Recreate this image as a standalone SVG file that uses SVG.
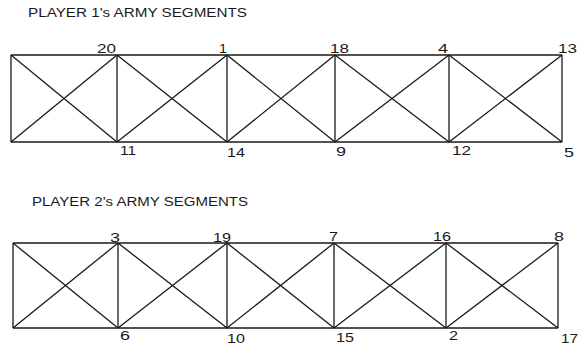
<svg xmlns="http://www.w3.org/2000/svg" width="579" height="347" viewBox="0 0 579 347">
<style>
.ln{stroke:#1a1a1a;stroke-width:1.3;fill:none}
.t{font-family:"Liberation Sans",Arial,sans-serif;font-size:12.5px;fill:#1a1a1a}
.n{font-family:"Liberation Sans",Arial,sans-serif;font-size:13.5px;fill:#1a1a1a}
</style>
<rect width="579" height="347" fill="#fff"/>
<g id="title1"><text class="t" x="28" y="17" textLength="219" lengthAdjust="spacingAndGlyphs">PLAYER 1's ARMY SEGMENTS</text></g>
<g id="title2"><text class="t" x="32" y="206" textLength="216" lengthAdjust="spacingAndGlyphs">PLAYER 2's ARMY SEGMENTS</text></g>
<g id="connectors">
<g id="army1-lines" class="ln">
<path d="M11,55H562M11,142H562"/>
<path d="M11,55V142M117,55V142M227,55V142M335,55V142M449,55V142M562,55V142"/>
<path d="M11,55L117,142M11,142L117,55M117,55L227,142M117,142L227,55M227,55L335,142M227,142L335,55M335,55L449,142M335,142L449,55M449,55L562,142M449,142L562,55"/>
</g>
<g id="army2-lines" class="ln">
<path d="M13,243H558M13,328H558"/>
<path d="M13,243V328M118,243V328M227,243V328M334,243V328M446,243V328M558,243V328"/>
<path d="M13,243L118,328M13,328L118,243M118,243L227,328M118,328L227,243M227,243L334,328M227,328L334,243M334,243L446,328M334,328L446,243M446,243L558,328M446,328L558,243"/>
</g>
</g>
<g id="army1-labels">
<g id="n20"><text class="n" x="97" y="53" textLength="19" lengthAdjust="spacingAndGlyphs">20</text></g>
<g id="n1"><text class="n" x="219" y="53" textLength="8" lengthAdjust="spacingAndGlyphs">1</text></g>
<g id="n18"><text class="n" x="330" y="53" textLength="19" lengthAdjust="spacingAndGlyphs">18</text></g>
<g id="n4"><text class="n" x="438" y="53" textLength="10" lengthAdjust="spacingAndGlyphs">4</text></g>
<g id="n13"><text class="n" x="558" y="53" textLength="19" lengthAdjust="spacingAndGlyphs">13</text></g>
<g id="n11"><text class="n" x="120" y="155" textLength="16" lengthAdjust="spacingAndGlyphs">11</text></g>
<g id="n14"><text class="n" x="227" y="157" textLength="18" lengthAdjust="spacingAndGlyphs">14</text></g>
<g id="n9"><text class="n" x="336" y="156" textLength="10" lengthAdjust="spacingAndGlyphs">9</text></g>
<g id="n12"><text class="n" x="452" y="155" textLength="19" lengthAdjust="spacingAndGlyphs">12</text></g>
<g id="n5"><text class="n" x="564" y="157" textLength="10" lengthAdjust="spacingAndGlyphs">5</text></g>
</g>
<g id="army2-labels">
<g id="n3"><text class="n" x="110" y="242" textLength="10" lengthAdjust="spacingAndGlyphs">3</text></g>
<g id="n19"><text class="n" x="213" y="242" textLength="18" lengthAdjust="spacingAndGlyphs">19</text></g>
<g id="n7"><text class="n" x="329" y="241" textLength="9" lengthAdjust="spacingAndGlyphs">7</text></g>
<g id="n16"><text class="n" x="433" y="241" textLength="18" lengthAdjust="spacingAndGlyphs">16</text></g>
<g id="n8"><text class="n" x="554" y="241" textLength="10" lengthAdjust="spacingAndGlyphs">8</text></g>
<g id="n6"><text class="n" x="120" y="340" textLength="10" lengthAdjust="spacingAndGlyphs">6</text></g>
<g id="n10"><text class="n" x="227" y="343" textLength="18" lengthAdjust="spacingAndGlyphs">10</text></g>
<g id="n15"><text class="n" x="336" y="342" textLength="18" lengthAdjust="spacingAndGlyphs">15</text></g>
<g id="n2"><text class="n" x="449" y="340" textLength="9" lengthAdjust="spacingAndGlyphs">2</text></g>
<g id="n17"><text class="n" x="561" y="343" textLength="17" lengthAdjust="spacingAndGlyphs">17</text></g>
</g>
</svg>
